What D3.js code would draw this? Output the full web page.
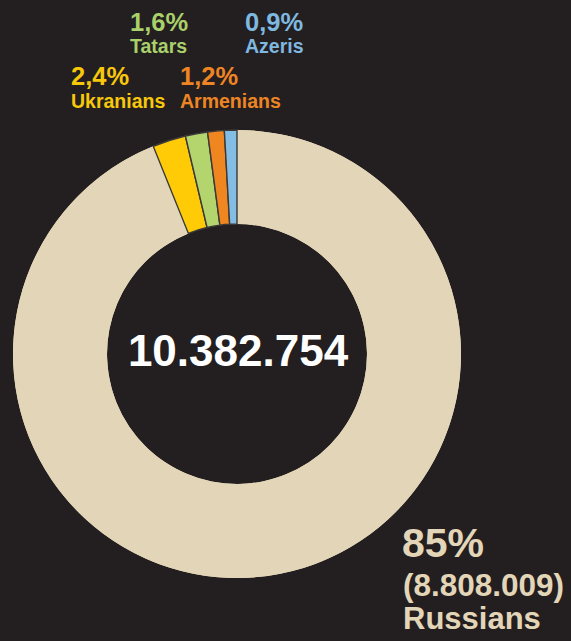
<!DOCTYPE html>
<meta charset="utf-8">
<style>
html, body { margin: 0; padding: 0; background: #231f20; }
text { font-family: "Liberation Sans", Arial, sans-serif; font-weight: bold; }
</style>
<svg width="571" height="641"></svg>
<script src="https://cdn.jsdelivr.net/npm/d3@7"></script>
<script>

// population shares (%), clockwise from 12 o'clock
var groups = ["Russians", "Others", "Ukranians", "Tatars", "Armenians", "Azeris"];
var shares = [85, 8.9, 2.4, 1.6, 1.2, 0.9];
var colors = ["#e3d6b8", "#e3d6b8", "#fecb06", "#b4d46e", "#f0861f", "#83bde4"];
var labelColors = ["#e3d6b8", "#e3d6b8", "#f7c80a", "#a9d06a", "#ee8524", "#7fb9e0"];
var total = 10382754;
var russians = 8808009;

var svg = d3.select("svg"),
    cx = 237, cy = 354,
    outer = 224, inner = 130;

var data = groups.map(function(g, i) {
  return {name: g, value: shares[i], color: colors[i], labelColor: labelColors[i]};
});

var pie = d3.pie()
    .sort(null)
    .value(function(d) { return d.value; });

var arc = d3.arc()
    .innerRadius(inner)
    .outerRadius(outer);

var arcs = pie(data);

var g = svg.append("g")
    .attr("transform", "translate(" + cx + "," + cy + ")");

// beige base ring so the Russians/Others join shows no seam
g.append("path")
    .attr("d", arc({startAngle: 0, endAngle: 2 * Math.PI}))
    .attr("fill", colors[0]);

g.selectAll("path.big")
    .data(arcs.filter(function(d) { return d.index < 2; }))
  .enter().append("path")
    .attr("class", "big")
    .attr("d", arc)
    .attr("fill", function(d) { return d.data.color; });

g.selectAll("path.small")
    .data(arcs.filter(function(d) { return d.index >= 2; }))
  .enter().append("path")
    .attr("class", "small")
    .attr("d", arc)
    .attr("fill", function(d) { return d.data.color; })
    .attr("stroke", "#3b3838")
    .attr("stroke-width", 1.4);

var nl = d3.formatLocale({decimal: ",", thousands: ".", grouping: [3], currency: ["", ""]});
var fmtInt = nl.format(",d");
var fmtPct = function(v) { return String(v).replace(".", ",") + "%"; };

// center total
svg.append("text")
    .attr("x", cx + 1)
    .attr("y", 366)
    .attr("text-anchor", "middle")
    .attr("fill", "#ffffff")
    .style("font-size", "44px")
    .text(fmtInt(total));

// small group labels
var labelPos = {
  "Tatars":    [130, 31, 53],
  "Azeris":    [245, 31, 53],
  "Ukranians": [71, 85, 108],
  "Armenians": [180, 85, 108]
};

data.filter(function(d) { return labelPos[d.name]; }).forEach(function(d) {
  var p = labelPos[d.name];
  svg.append("text")
      .attr("x", p[0])
      .attr("y", p[1])
      .attr("fill", d.labelColor)
      .style("font-size", "25.5px")
      .text(fmtPct(d.value));
  svg.append("text")
      .attr("x", p[0])
      .attr("y", p[2])
      .attr("fill", d.labelColor)
      .style("font-size", "19.5px")
      .text(d.name);
});

// Russians label
var ru = data[0];
svg.append("text")
    .attr("x", 402)
    .attr("y", 557)
    .attr("fill", ru.labelColor)
    .style("font-size", "41px")
    .text(ru.value + "%");
svg.append("text")
    .attr("x", 403)
    .attr("y", 596)
    .attr("fill", ru.labelColor)
    .style("font-size", "31.5px")
    .text("(" + fmtInt(russians) + ")");
svg.append("text")
    .attr("x", 403)
    .attr("y", 629)
    .attr("fill", ru.labelColor)
    .style("font-size", "31px")
    .text(ru.name);

</script>
